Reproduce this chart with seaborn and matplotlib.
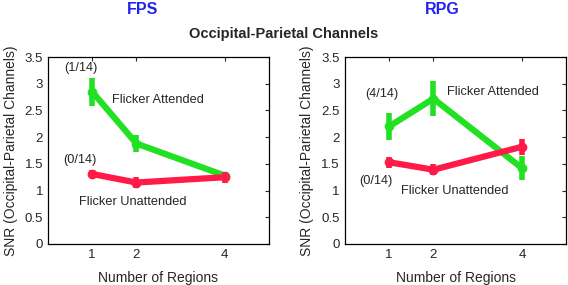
import numpy as np
import pandas as pd
import seaborn as sns
import matplotlib.pyplot as plt

regions = [1, 2, 4]
fps_att = [2.85, 1.88, 1.28]
fps_att_err = [0.26, 0.16, 0.07]
fps_unatt = [1.31, 1.15, 1.25]
fps_unatt_err = [0.08, 0.1, 0.1]
rpg_att = [2.2, 2.72, 1.42]
rpg_att_err = [0.25, 0.33, 0.22]
rpg_unatt = [1.53, 1.39, 1.82]
rpg_unatt_err = [0.1, 0.1, 0.15]

green = "#22e022"
red = "#ff1a48"

sns.set_style("white")
plt.rcParams["font.family"] = ["Liberation Sans", "DejaVu Sans"]

fig = plt.figure(figsize=(5.68, 2.85), dpi=100)
ax1 = fig.add_axes([0.0845, 0.144, 0.389, 0.656])
ax2 = fig.add_axes([0.607, 0.144, 0.390, 0.656])


def panel(ax, att, att_err, unatt, unatt_err):
    df = pd.DataFrame({
        "regions": regions * 2,
        "snr": att + unatt,
        "cond": ["Flicker Attended"] * 3 + ["Flicker Unattended"] * 3,
    })
    sns.lineplot(data=df, x="regions", y="snr", hue="cond",
                 palette=[green, red], linewidth=4.5, legend=False, ax=ax,
                 marker="o", markersize=7, markeredgewidth=0)
    ax.errorbar(regions, att, yerr=att_err, fmt="none", ecolor=green,
                elinewidth=4, capsize=0)
    ax.errorbar(regions, unatt, yerr=unatt_err, fmt="none", ecolor=red,
                elinewidth=4, capsize=0)
    ax.set_xlim(0, 5)
    ax.set_ylim(0, 3.5)
    ax.set_xticks(regions)
    ax.set_yticks(np.arange(0, 3.6, 0.5))
    ax.set_yticklabels(["0", "0.5", "1", "1.5", "2", "2.5", "3", "3.5"])
    ax.tick_params(direction="in", top=True, right=True, length=3,
                   labelsize=9.5, width=0.8)
    for s in ax.spines.values():
        s.set_linewidth(0.9)
        s.set_color("black")
    ax.set_xlabel("Number of Regions", fontsize=10, labelpad=7)
    ax.set_ylabel("SNR (Occipital-Parietal Channels)", fontsize=10,
                  labelpad=5)


panel(ax1, fps_att, fps_att_err, fps_unatt, fps_unatt_err)
panel(ax2, rpg_att, rpg_att_err, rpg_unatt, rpg_unatt_err)

fs = 9.2
ax1.text(0.75, 3.3, "(1/14)", fontsize=fs, ha="center", va="center")
ax1.text(1.45, 2.7, "Flicker Attended", fontsize=fs, va="center")
ax1.text(0.72, 1.58, "(0/14)", fontsize=fs, ha="center", va="center")
ax1.text(0.7, 0.79, "Flicker Unattended", fontsize=fs, va="center")

ax2.text(0.84, 2.8, "(4/14)", fontsize=fs, ha="center", va="center")
ax2.text(2.3, 2.85, "Flicker Attended", fontsize=fs, va="center")
ax2.text(0.7, 1.18, "(0/14)", fontsize=fs, ha="center", va="center")
ax2.text(1.27, 1.0, "Flicker Unattended", fontsize=fs, va="center")

fig.text(0.251, 0.965, "FPS", ha="center", va="center", color="#2222ee",
         fontweight="bold", fontsize=11.5)
fig.text(0.778, 0.965, "RPG", ha="center", va="center", color="#2222ee",
         fontweight="bold", fontsize=11.5)
fig.text(0.5, 0.882, "Occipital-Parietal Channels", ha="center",
         va="center", fontweight="bold", fontsize=10.5)

fig.savefig("out.png", dpi=100)
